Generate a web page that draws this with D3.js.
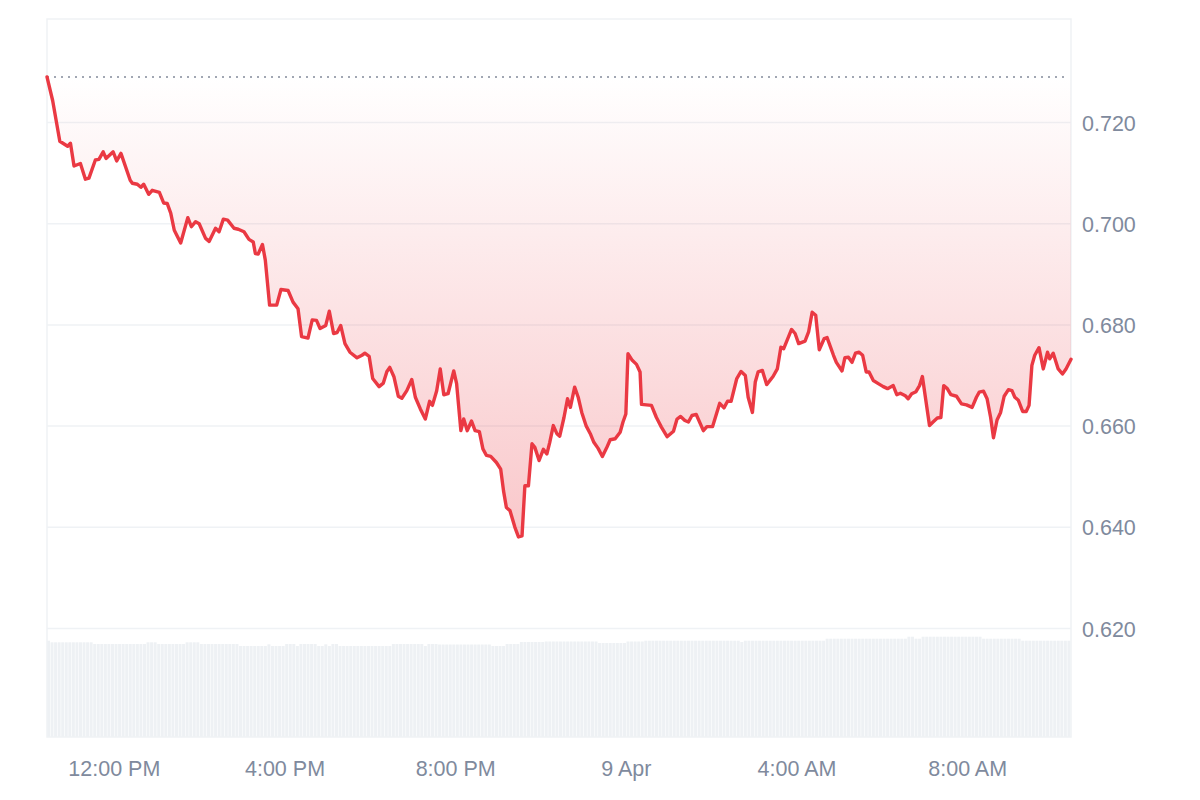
<!DOCTYPE html>
<html>
<head>
<meta charset="utf-8">
<script src="https://cdnjs.cloudflare.com/ajax/libs/d3/7.8.5/d3.min.js"></script>
<style>
  body { margin: 0; background: #fff; }
  #chart { width: 1200px; height: 800px; }
  .axis text { font-family: "Liberation Sans", Arial, sans-serif; font-size: 21.5px; fill: #808a9d; }
</style>
</head>
<body>
<div id="chart"></div>
<script>
// price points: minutes after 10:26 on 8 Apr, and price in USD
var priceMinutes = [
  0,8,18,29,33,38,47,54,59,68,73,79,83,93,98,104,117,120,127,132,136,143,148,158,164,169,174,179,188,198,
  203,209,214,223,228,237,242,248,254,263,269,277,284,290,
  293,297,303,307,313,323,329,339,346,353,358,367,373,379,384,392,397,403,408,413,419,426,436,443,447,453,
  458,467,473,478,482,488,494,499,506,513,518,525,532,538,542,548,553,558,564,
  572,576,582,586,591,597,602,608,613,618,624,632,638,642,646,651,658,663,668,672,677,682,686,692,698,703,
  707,712,717,721,727,732,736,742,747,752,758,764,769,775,781,787,792,799,806,810,814,817,823,829,834,
  836,850,857,864,872,881,886,891,897,902,907,913,923,928,936,946,952,957,962,970,976,982,986,992,996,1000,
  1006,1012,1021,1027,1032,1036,1047,1052,1057,1066,1071,1076,1081,1086,1093,1097,
  1106,1110,1118,1122,1127,1132,1137,1142,1147,1152,1156,1162,1169,1176,1182,1190,1195,1200,1207,1211,
  1216,1222,1227,1231,1241,1246,1252,1257,1261,1266,1271,1279,1286,1293,1301,1307,1311,1317,1322,1327,
  1331,1336,1341,1346,1352,1357,1361,1366,1372,1377,1381,1385,1389,1395,1401,1407,1410,1415,1422,1428,1433,1440
];
var priceValues = [
  0.7290,0.7243,0.7163,0.7153,0.7159,0.7114,0.7119,0.7088,0.7090,0.7126,0.7127,0.7142,0.7129,0.7142,0.7124,
  0.7139,0.7086,0.7080,0.7078,0.7072,0.7078,0.7058,0.7066,0.7062,0.7041,0.7040,0.7021,0.6987,0.6962,0.7012,
  0.6994,0.7004,0.7000,0.6971,0.6965,0.6991,0.6984,0.7009,0.7007,0.6991,0.6989,0.6984,0.6969,0.6964,
  0.6941,0.6940,0.6959,0.6928,0.6839,0.6839,0.6870,0.6868,0.6845,0.6832,0.6777,0.6774,0.6810,0.6809,0.6793,
  0.6799,0.6827,0.6783,0.6785,0.6799,0.6763,0.6746,0.6735,0.6740,0.6744,0.6738,0.6694,0.6678,0.6685,0.6708,
  0.6716,0.6697,0.6659,0.6655,0.6670,0.6692,0.6657,0.6634,0.6614,0.6649,0.6641,0.6670,0.6713,0.6662,0.6664,
  0.6709,0.6684,0.6591,0.6614,0.6591,0.6610,0.6591,0.6589,0.6555,0.6542,0.6540,0.6528,0.6515,0.6472,0.6439,
  0.6433,0.6400,0.6381,0.6383,0.6482,0.6482,0.6565,0.6558,0.6532,0.6554,0.6545,0.6568,0.6601,0.6585,0.6580,
  0.6617,0.6654,0.6637,0.6677,0.6657,0.6627,0.6601,0.6585,0.6568,0.6556,0.6540,0.6557,0.6573,0.6575,0.6588,
  0.6608,0.6624,0.6743,0.6730,0.6722,0.6707,
  0.6643,0.6641,0.6617,0.6598,0.6579,0.6590,0.6614,0.6619,0.6611,0.6608,0.6621,0.6623,0.6591,0.6599,0.6599,
  0.6645,0.6636,0.6649,0.6649,0.6694,0.6708,0.6700,0.6657,0.6627,0.6687,0.6707,0.6710,0.6682,0.6698,0.6713,
  0.6756,0.6753,0.6791,0.6783,0.6763,0.6768,0.6786,0.6825,0.6819,0.6751,0.6773,0.6775,
  0.6740,0.6726,0.6709,0.6735,0.6736,0.6726,0.6744,0.6746,0.6740,0.6707,0.6707,0.6690,0.6684,0.6678,0.6674,
  0.6680,0.6662,0.6665,0.6660,0.6654,0.6664,0.6668,0.6680,0.6698,0.6601,0.6608,0.6616,0.6617,0.6680,0.6674,
  0.6662,0.6659,0.6644,0.6642,0.6637,0.6657,0.6667,0.6669,0.6654,0.6617,0.6577,0.6612,0.6627,0.6659,0.6672,
  0.6670,0.6657,0.6651,0.6629,0.6629,0.6641,0.6720,0.6740,0.6755,0.6713,0.6746,0.6733,0.6744,0.6713,0.6703,
  0.6713,0.6732
];
// volume per 5 minute bucket (relative units)
var volumeValues = [
  96.3,94.7,94.7,94.7,94.7,94.7,94.7,94.7,94.7,94.7,94.7,94.7,94.7,
  93,93,93,93,93,93,93,93,93,93,93,93,93,93,93,
  94.7,94.7,94.7,93,93,93,93,93,93,93,93,94.7,94.7,94.7,94.7,
  93,93,93,93,93,93,93,93,93,93,93,
  91,91,91,91,91,91,91,91,92.7,91,91,91,91,93,93,93,91,
  93,93,93,93,93,91,91,92.7,91,93,93,
  91,91,91,91,91,91,91,91,91,91,91,91,91,91,91,
  93,93,93,93,93,93,93,93,93,91,93,93,93,
  92.5,92.5,92.5,92.5,92.5,92.5,92.5,92.5,92.5,92.5,92.5,92.5,92.5,92.5,92.5,
  91,91,91,91,93,93,93,93,95,95,95,95,95,95,95,
  95.5,95.5,95.5,95.5,95.5,95.5,95.5,95.5,95.5,95.5,95.5,95.5,95.5,95.5,95.5,
  94,94,94,94,94,94,94,94,95.5,95.5,95.5,95.5,95.5,
  96.3,96.3,96.3,96.3,96.3,96.3,96.3,96.3,96.3,96.3,96.3,96.3,96.3,96.3,96.3,96.3,
  96.3,96.3,96.3,96.3,96.3,96.3,96.3,96.3,96.3,96.3,96.3,95,
  96.3,96.3,96.3,96.3,96.3,96.3,96.3,96.3,96.3,96.3,96.3,96.3,96.3,96.3,96.3,96.3,96.3,96.3,96.3,96.3,96.3,96.3,96.3,
  98.3,98.3,98.3,98.3,98.3,98.3,98.3,98.3,98.3,98.3,98.3,98.3,98.3,98.3,98.3,98.3,98.3,98.3,98.3,98.3,98.3,98.3,98.3,
  100.3,100.3,98.3,98.3,
  100.3,100.3,100.3,100.3,100.3,100.3,100.3,100.3,100.3,100.3,100.3,100.3,100.3,100.3,100.3,100.3,100.3,
  98.3,98.3,98.3,98.3,98.3,98.3,98.3,98.3,98.3,98.3,98.3,
  96.3,96.3,96.3,96.3,96.3,96.3,96.3,96.3,96.3,96.3,96.3,96.3,96.3,96.3
];
var yTickValues = [0.62, 0.64, 0.66, 0.68, 0.70, 0.72];
var startTime = new Date(2025, 3, 8, 10, 26);

var width = 1200, height = 800;
var m = { left: 47, right: 1071, top: 19, bottom: 737 };

var svg = d3.select('#chart').append('svg')
  .attr('width', width)
  .attr('height', height);

var minute = 60 * 1000;
var data = d3.zip(priceMinutes, priceValues).map(function(d) {
  return { t: new Date(+startTime + d[0] * minute), v: d[1] };
});
var endTime = new Date(+startTime + 1440 * minute);

var x = d3.scaleTime().domain([startTime, endTime]).range([m.left, m.right]);
var y = d3.scaleLinear().domain([0.62, 0.72]).range([628.5, 122.5]);
var yVol = d3.scaleLinear().domain([0, 100]).range([m.bottom, m.bottom - 100]);

var red = '#ea3943';
var basePrice = priceValues[0];
var minPrice = d3.min(priceValues);

// gradient for the fill between start price and the line
var grad = svg.append('defs').append('linearGradient')
  .attr('id', 'fillGrad')
  .attr('gradientUnits', 'userSpaceOnUse')
  .attr('x1', 0).attr('x2', 0)
  .attr('y1', y(basePrice)).attr('y2', y(minPrice));
grad.append('stop').attr('offset', 0).attr('stop-color', red).attr('stop-opacity', 0);
grad.append('stop').attr('offset', 1).attr('stop-color', red).attr('stop-opacity', 0.28);

// volume bars
var slot = (m.right - m.left) / volumeValues.length;
svg.append('g').selectAll('rect')
  .data(volumeValues)
  .enter().append('rect')
  .attr('x', function(d, i) { return x(new Date(+startTime + i * 5 * minute)); })
  .attr('width', slot - 0.6)
  .attr('y', function(d) { return yVol(d); })
  .attr('height', function(d) { return m.bottom - yVol(d); })
  .attr('fill', '#eef1f4');

// frame
svg.append('rect')
  .attr('x', m.left).attr('y', m.top)
  .attr('width', m.right - m.left).attr('height', m.bottom - m.top)
  .attr('fill', 'none')
  .attr('stroke', '#eff2f5')
  .attr('stroke-width', 1.5);

// grid lines
svg.append('g').selectAll('line')
  .data(yTickValues)
  .enter().append('line')
  .attr('x1', m.left).attr('x2', m.right)
  .attr('y1', function(d) { return y(d); })
  .attr('y2', function(d) { return y(d); })
  .attr('stroke', '#eff2f5')
  .attr('stroke-width', 1.5);

// area
var area = d3.area()
  .x(function(d) { return x(d.t); })
  .y0(y(basePrice))
  .y1(function(d) { return y(d.v); });
svg.append('path')
  .datum(data)
  .attr('d', area)
  .attr('fill', 'url(#fillGrad)');

// start price reference
svg.append('line')
  .attr('x1', m.left).attr('x2', m.right - 5)
  .attr('y1', y(basePrice)).attr('y2', y(basePrice))
  .attr('stroke', '#a1a7b3')
  .attr('stroke-width', 2)
  .attr('stroke-dasharray', '2,5');

// price line
var line = d3.line()
  .x(function(d) { return x(d.t); })
  .y(function(d) { return y(d.v); });
svg.append('path')
  .datum(data)
  .attr('d', line)
  .attr('fill', 'none')
  .attr('stroke', red)
  .attr('stroke-width', 3.4)
  .attr('stroke-linejoin', 'round')
  .attr('stroke-linecap', 'round');

// axes
var fmtTime = d3.timeFormat('%-I:%M %p');
var fmtDay = d3.timeFormat('%-d %b');
var xAxis = d3.axisBottom(x)
  .ticks(d3.timeHour.every(4))
  .tickSize(0)
  .tickFormat(function(d) { return d.getHours() === 0 ? fmtDay(d) : fmtTime(d); });
var gx = svg.append('g')
  .attr('class', 'axis')
  .attr('transform', 'translate(0,' + m.bottom + ')')
  .call(xAxis);
gx.select('.domain').remove();
gx.selectAll('text').attr('y', 39).attr('dy', 0);

var yAxis = d3.axisRight(y)
  .tickValues(yTickValues)
  .tickSize(0)
  .tickFormat(d3.format('.3f'));
var gy = svg.append('g')
  .attr('class', 'axis')
  .attr('transform', 'translate(' + 1082 + ',0)')
  .call(yAxis);
gy.select('.domain').remove();
gy.selectAll('text').attr('x', 0).attr('dy', '0.35em');
</script>
</body>
</html>
